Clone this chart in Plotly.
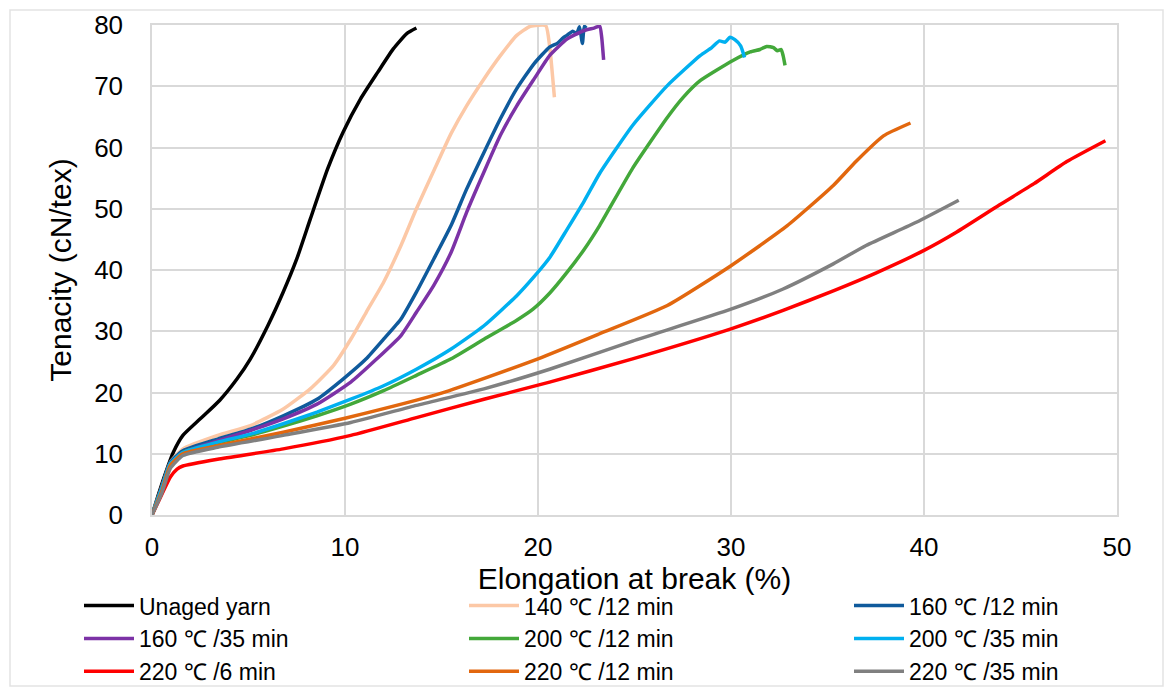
import plotly.graph_objects as go

unaged_x = [0, 0.3, 0.6, 1.1, 1.6, 2.5, 3.5, 4.4, 5.1, 6.0, 6.8, 7.5, 8.2, 9.1, 9.9, 10.8, 11.7, 12.5, 13.2, 13.7]
unaged_y = [0, 3, 5.9, 10.2, 13.0, 15.7, 18.7, 22.2, 25.5, 30.9, 36.4, 41.8, 48.3, 56.5, 62.5, 67.9, 72.3, 76.1, 78.6, 79.5]

t140_12_x = [0, 0.5, 0.95, 1.6, 3.4, 5.1, 6.8, 8.2, 9.4, 10.3, 11.1, 12.0, 12.9, 13.7, 14.6, 15.5, 16.3, 17.2, 18.05, 18.9, 19.6, 20.4, 20.6, 20.85]
t140_12_y = [0, 4.5, 8.6, 10.8, 13.0, 14.6, 17.3, 20.6, 24.4, 28.7, 33.1, 38.0, 44.0, 50.0, 56.2, 62.3, 66.8, 71.2, 75.0, 78.3, 79.8, 79.9, 76.6, 68.2]

t160_12_x = [0, 0.5, 0.95, 1.6, 3.4, 5.1, 6.8, 8.55, 9.9, 11.1, 12.0, 12.9, 13.7, 14.6, 15.5, 16.3, 17.2, 18.05, 18.9, 19.8, 20.6, 21.0, 21.3, 21.5, 21.8, 22.0, 22.15, 22.3, 22.4, 22.5]
t160_12_y = [0, 4.5, 8.6, 10.5, 12.4, 14.0, 16.2, 18.9, 22.2, 25.5, 28.7, 32.0, 36.4, 41.8, 47.3, 53.2, 59.2, 64.7, 69.6, 73.7, 76.4, 77.0, 77.9, 78.3, 79.0, 78.6, 79.7, 77.0, 79.8, 79.5]

t160_35_x = [0, 0.5, 0.95, 1.6, 3.4, 5.1, 6.8, 8.55, 10.3, 11.65, 12.9, 13.7, 14.6, 15.5, 16.3, 17.2, 18.05, 18.9, 19.8, 20.6, 21.5, 22.4, 22.9, 23.2, 23.3, 23.4]
t160_35_y = [0, 4.3, 8.3, 10.2, 12.1, 13.8, 15.7, 18.1, 21.7, 25.5, 29.3, 33.1, 37.5, 42.9, 49.4, 56.0, 62.0, 66.8, 71.2, 75.0, 77.7, 79.1, 79.5, 79.8, 78.0, 74.3]

t200_12_x = [0, 0.5, 0.95, 1.6, 3.4, 5.1, 6.8, 8.55, 10.3, 12.0, 13.7, 15.5, 17.2, 18.9, 19.74, 20.6, 21.5, 22.4, 23.2, 24.9, 26.7, 27.5, 28.4, 30.1, 31.0, 31.5, 31.85, 32.2, 32.4, 32.6, 32.7, 32.8]
t200_12_y = [0, 4.2, 8.2, 10.2, 11.8, 13.0, 14.5, 16.2, 18.1, 20.3, 22.8, 25.5, 28.7, 31.8, 33.6, 36.2, 39.6, 43.4, 47.3, 56.6, 64.9, 68.1, 70.9, 74.2, 75.6, 76.0, 76.5, 76.3, 75.8, 76.0, 75.0, 73.4]

t200_35_x = [0, 0.5, 0.95, 1.6, 3.4, 5.1, 6.8, 8.55, 10.3, 12.0, 13.7, 15.5, 17.2, 18.9, 19.74, 20.6, 21.5, 22.4, 23.2, 24.9, 26.7, 28.4, 29.0, 29.4, 29.7, 29.95, 30.2, 30.5, 30.7]
t200_35_y = [0, 4.3, 8.4, 10.2, 11.9, 13.2, 14.9, 16.8, 18.9, 21.1, 23.8, 27.1, 30.9, 35.8, 38.7, 42.0, 46.6, 51.3, 55.8, 63.6, 70.1, 75.0, 76.3, 77.4, 77.2, 78.0, 77.6, 76.6, 74.7]

t220_6_x = [0, 0.5, 0.95, 1.3, 1.6, 3.4, 6.8, 10.3, 13.7, 17.2, 20.6, 24.9, 30.0, 32.7, 35.3, 37.5, 40.0, 41.7, 43.9, 45.7, 47.4, 49.4]
t220_6_y = [0, 3.3, 6.2, 7.5, 8.0, 9.1, 10.8, 13.0, 15.9, 18.9, 21.7, 25.5, 30.4, 33.4, 36.6, 39.5, 43.2, 46.2, 50.6, 54.1, 57.7, 61.1]

t220_12_x = [0, 0.5, 0.95, 1.6, 3.4, 6.8, 10.0, 15.0, 20.0, 23.2, 26.7, 30.0, 32.9, 35.3, 36.5, 37.9, 39.3]
t220_12_y = [0, 3.8, 8.1, 10.0, 11.3, 13.5, 15.8, 19.9, 25.5, 29.6, 34.2, 40.7, 47.2, 53.8, 57.8, 61.9, 64.0]

t220_35_x = [0, 0.5, 0.95, 1.6, 3.4, 6.8, 10.3, 13.7, 17.2, 20.6, 24.9, 30.0, 32.7, 35.3, 37.0, 39.6, 41.8]
t220_35_y = [0, 3.5, 7.6, 9.7, 11.05, 13.0, 15.1, 17.9, 20.6, 23.8, 28.4, 33.6, 36.9, 41.0, 44.0, 47.8, 51.4]

series_names = ["Unaged yarn", "140 ℃ /12 min", "160 ℃ /12 min", "160 ℃ /35 min",
                "200 ℃ /12 min", "200 ℃ /35 min", "220 ℃ /6 min", "220 ℃ /12 min", "220 ℃ /35 min"]
series_x = [unaged_x, t140_12_x, t160_12_x, t160_35_x, t200_12_x, t200_35_x, t220_6_x, t220_12_x, t220_35_x]
series_y = [unaged_y, t140_12_y, t160_12_y, t160_35_y, t200_12_y, t200_35_y, t220_6_y, t220_12_y, t220_35_y]
colors = ["#000000", "#FCC8A6", "#0F5A9C", "#7C32A6", "#43A83A", "#00B0F0", "#FF0000", "#E2670E", "#808080"]
# legend column for each series (legend is read row by row, three per row)
legend_ids = ["legend", "legend2", "legend3"] * 3

x_ticks = [0, 10, 20, 30, 40, 50]
y_ticks = [0, 10, 20, 30, 40, 50, 60, 70, 80]

fig = go.Figure()
for name, xs, ys, c, lg in zip(series_names, series_x, series_y, colors, legend_ids):
    fig.add_trace(go.Scatter(x=xs, y=ys, mode="lines", name=name, legend=lg,
                             line=dict(color=c, width=3.5, shape="spline", smoothing=0.5)))

grid = "#D9D9D9"
leg_common = dict(orientation="v", yanchor="top", xanchor="left", y=-0.141,
                  font=dict(size=23), itemwidth=50, traceorder="normal",
                  bgcolor="rgba(0,0,0,0)", tracegroupgap=0)
fig.update_layout(
    width=1164, height=687,
    margin=dict(l=152, r=47, t=25, b=172, autoexpand=False),
    paper_bgcolor="white", plot_bgcolor="white",
    font=dict(family="Liberation Sans, Arial, sans-serif", color="black"),
    xaxis=dict(range=[0, 50], tickvals=x_ticks, showgrid=True, gridcolor=grid, gridwidth=1.5,
               zeroline=False, showline=True, linecolor=grid, linewidth=1.5, mirror=True,
               tickfont=dict(size=26), ticks="", ticklabelstandoff=8,
               title=dict(text="Elongation at break (%)", font=dict(size=30), standoff=6)),
    yaxis=dict(range=[0, 80], tickvals=y_ticks, showgrid=True, gridcolor=grid, gridwidth=1.5,
               zeroline=False, showline=True, linecolor=grid, linewidth=1.5, mirror=True,
               tickfont=dict(size=26), ticks="", ticklabelstandoff=22,
               title=dict(text="Tenacity (cN/tex)", font=dict(size=30), standoff=14)),
    legend=dict(x=(79 - 152) / 965, **leg_common),
    legend2=dict(x=(464 - 152) / 965, **leg_common),
    legend3=dict(x=(849 - 152) / 965, **leg_common),
    shapes=[dict(type="rect", xref="paper", yref="paper",
                 x0=(10 - 152) / 965, x1=(1163 - 152) / 965,
                 y0=(515 - 686) / 490, y1=(515 - 10) / 490,
                 line=dict(color="#E3E3E3", width=1.5), layer="below")],
    showlegend=True,
)

fig.write_html("out.html")
